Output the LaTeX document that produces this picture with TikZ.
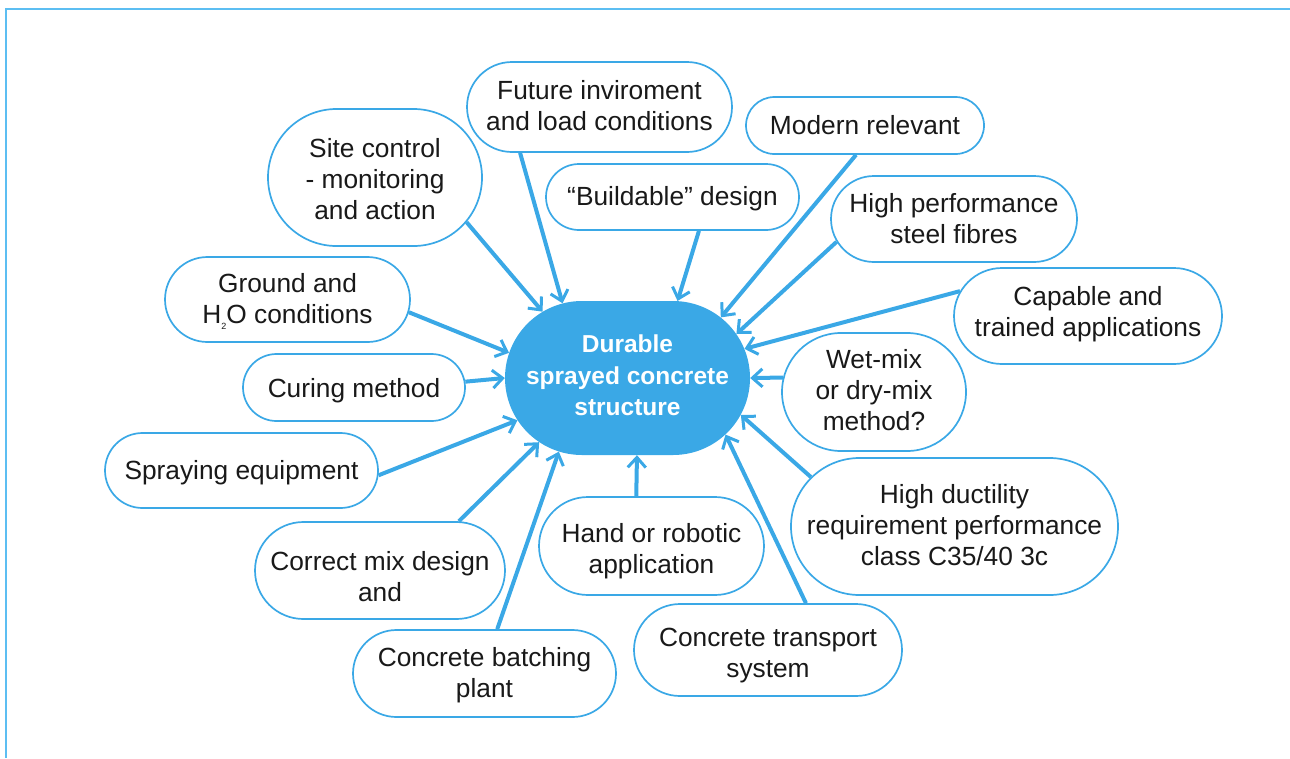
\documentclass[tikz,border=0pt]{standalone}
\usepackage{fontspec}
\setmainfont{Liberation Sans}
\usepackage{xcolor}
\usepackage{tikz}
\usetikzlibrary{shapes.misc,arrows.meta}

\definecolor{sprayblue}{HTML}{3AA8E6}
\definecolor{frameblue}{HTML}{5CBEF2}

% text that does not widen its bubble (optional: drop it a little)
\newcommand{\lines}[2][3pt]{\makebox[0pt]{\raisebox{-#1}[\height][\depth]{\begin{tabular}{@{}c@{}}#2\end{tabular}}}}

\begin{document}
\begin{tikzpicture}[
        x = 1pt, y = -1pt,
        bubble/.style = {rounded rectangle, draw=sprayblue, line width=1.7pt, fill=white,
            inner sep=2pt, text=black!90, font=\fontsize{26.3}{31}\selectfont},
        size/.style 2 args = {minimum width=#1pt, minimum height=#2pt},
        feed/.style = {draw=sprayblue, line width=4pt,
            -{Straight Barb[length=10pt, width=18pt, line width=3pt]}}
    ]
    \tikzstyle{core} = [rounded rectangle, fill=sprayblue, text=white, inner sep=2pt,
        font=\fontsize{24.5}{31.5}\selectfont\bfseries];
    \useasboundingbox (0,0) rectangle (1290,758);
    \draw [frameblue, line width=2pt] (1290,9) -- (6,9) -- (6,758);

    \node [core, size={249}{154}] (core) at (627.5,378) {\lines[0pt]{Durable\\sprayed concrete\\structure}};

    \node [bubble, size={269}{90}]  (fut)    at (599.5,107) {\lines[2pt]{Future inviroment\\and load conditions}};
    \node [bubble, size={242}{57}]  (modern) at (865,125.5) {\lines{Modern relevant}};
    \node [bubble, size={218}{137}] (site)   at (375,177.5) {\lines[4.5pt]{Site control\\- monitoring\\and action}};
    \node [bubble, size={257}{66}]  (build)  at (672.5,197) {\lines[2pt]{``Buildable'' design}};
    \node [bubble, size={250}{86}]  (steel)  at (954,219)   {\lines{High performance\\steel fibres}};
    \node [bubble, size={249}{85}]  (ground) at (287.5,299.5) {\lines[2pt]{Ground and\\H\raisebox{-6pt}{\fontsize{9}{9}\selectfont 2}O conditions}};
    \node [bubble, size={272}{96}]  (crew)   at (1088,316)  {\lines[-1pt]{Capable and\\trained applications}};
    \node [bubble, size={226}{67}]  (cure)   at (354,387.5) {\lines[4pt]{Curing method}};
    \node [bubble, size={188}{118}] (wet)    at (874,392)   {\lines[1pt]{Wet-mix\\or dry-mix\\method?}};
    \node [bubble, size={277}{75}]  (spray)  at (241.5,470.5) {\lines{Spraying equipment}};
    \node [bubble, size={331}{137}] (duct)   at (954.5,526.5) {\lines[2pt]{High ductility\\requirement performance\\class C35/40 3c}};
    \node [bubble, size={254}{97}]  (mix)    at (380,570.5) {\lines[9pt]{Correct mix design\\and}};
    \node [bubble, size={229}{98}]  (hand)   at (651.5,546) {\lines[6pt]{Hand or robotic\\application}};
    \node [bubble, size={267}{87}]  (batch)  at (484.5,673.5) {\lines[2pt]{Concrete batching\\plant}};
    \node [bubble, size={272}{92}]  (trans)  at (768,650)   {\lines[6pt]{Concrete transport\\system}};

    % everything feeds the core
    \draw [feed] (fut.210)    -- (core.131);
    \draw [feed] (build.308)  -- (core.57);
    \draw [feed] (site.334)   -- (core.142);
    \draw [feed] (modern.253) -- (core.33);
    \draw [feed] (steel.191)  -- (core.22);
    \draw [feed] (crew.169)   -- (core.14);
    \draw [feed] (wet.171)    -- (core.0);
    \draw [feed] (ground.354) -- (core.168);
    \draw [feed] (cure.3)     -- (core.180);
    \draw [feed] (spray.358)  -- (core.201);
    \draw [feed] (mix.32)     -- (core.216);
    \draw [feed] (batch.74)   -- (core.227);
    \draw [feed] (hand.107)   -- (core.277);
    \draw [feed] (trans.51)   -- (core.330);
    \draw [feed] (duct.161)   -- (core.342);
\end{tikzpicture}
\end{document}
